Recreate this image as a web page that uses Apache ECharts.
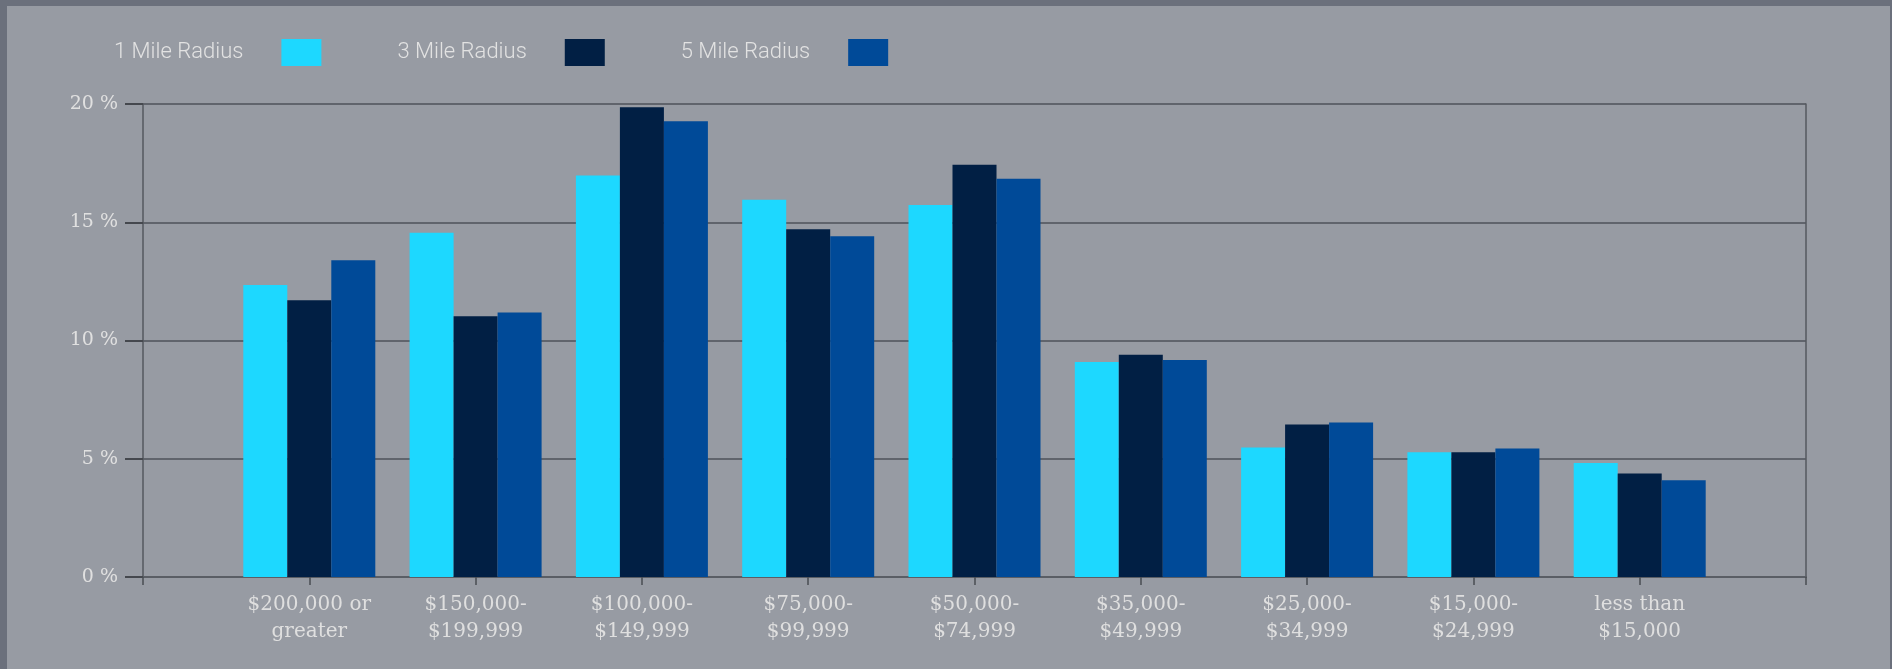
<!DOCTYPE html>
<html>
<head>
<meta charset="utf-8">
<script src="https://cdn.jsdelivr.net/npm/echarts@6/dist/echarts.min.js"></script>
<style>
  html, body { margin: 0; padding: 0; background: #6b707c; }
  #wrap { position: absolute; left: 0; top: 0; width: 1892px; height: 669px; background: #6b707c; }
  #chart { position: absolute; left: 7px; top: 6px; width: 1883px; height: 663px; background: #979ba3; }
</style>
</head>
<body>
<div id="wrap"><div id="chart"></div></div>
<script>
const categories = ['$200,000 or\ngreater', '$150,000-\n$199,999', '$100,000-\n$149,999', '$75,000-\n$99,999', '$50,000-\n$74,999', '$35,000-\n$49,999', '$25,000-\n$34,999', '$15,000-\n$24,999', 'less than\n$15,000'];
const seriesNames = ['1 Mile Radius', '3 Mile Radius', '5 Mile Radius'];
const mile1 = [12.35, 14.56, 16.98, 15.95, 15.73, 9.09, 5.48, 5.27, 4.82];
const mile3 = [11.70, 11.03, 19.86, 14.70, 17.43, 9.40, 6.45, 5.27, 4.38];
const mile5 = [13.39, 11.18, 19.27, 14.41, 16.84, 9.18, 6.53, 5.43, 4.09];
const yTicks = [0, 5, 10, 15, 20];
const colors = ['#1dd8ff', '#011f44', '#004a98'];

// pad an empty slot on each side so categories sit between the plot edges
const pad = arr => [null].concat(arr, [null]);
const xData = [''].concat(categories, ['']);

const chart = echarts.init(document.getElementById('chart'));
const serif = '"DejaVu Serif", serif';
chart.setOption({
  backgroundColor: '#979ba3',
  animation: false,
  color: colors,
  legend: {
    left: 107, top: 33, padding: 0,
    align: 'right',
    itemWidth: 40, itemHeight: 27, itemGap: 76,
    icon: 'rect',
    selectedMode: false,
    textStyle: { color: '#e2e2e2', fontFamily: 'Roboto', fontWeight: 300, fontSize: 22, padding: [0, 33, 0, 0] },
    data: seriesNames
  },
  grid: { left: 136, right: 84, top: 98, bottom: 92, containLabel: false },
  xAxis: {
    type: 'category',
    data: xData,
    boundaryGap: false,
    axisLine: { show: true, lineStyle: { color: '#5a5e65', width: 2 } },
    axisTick: { show: true, interval: 0, length: 8, lineStyle: { color: '#4a4d53', width: 1.5 } },
    axisLabel: { interval: 0, color: '#dfdfdf', fontFamily: serif, fontSize: 20, lineHeight: 27, margin: 14 },
    splitLine: { show: false }
  },
  yAxis: [{
    type: 'value', min: yTicks[0], max: yTicks[yTicks.length - 1], interval: yTicks[1] - yTicks[0],
    axisLine: { show: true, lineStyle: { color: '#55595f', width: 1.5 } },
    axisTick: { show: true, length: 18, lineStyle: { color: '#45484e', width: 2 } },
    axisLabel: { formatter: '{value} %', color: '#e0e0e0', fontFamily: serif, fontSize: 19, margin: 25 },
    splitLine: { show: true, lineStyle: { color: '#60646c', width: 2 } }
  }, {
    type: 'value', position: 'right', min: yTicks[0], max: yTicks[yTicks.length - 1], interval: yTicks[1] - yTicks[0],
    axisLine: { show: true, lineStyle: { color: '#55595f', width: 1.5 } },
    axisTick: { show: false }, axisLabel: { show: false }, splitLine: { show: false }
  }],
  series: [
    { name: seriesNames[0], type: 'bar', data: pad(mile1), barWidth: 44, barGap: '0%' },
    { name: seriesNames[1], type: 'bar', data: pad(mile3), barWidth: 44, barGap: '0%' },
    { name: seriesNames[2], type: 'bar', data: pad(mile5), barWidth: 44, barGap: '0%' }
  ]
});
</script>
</body>
</html>
